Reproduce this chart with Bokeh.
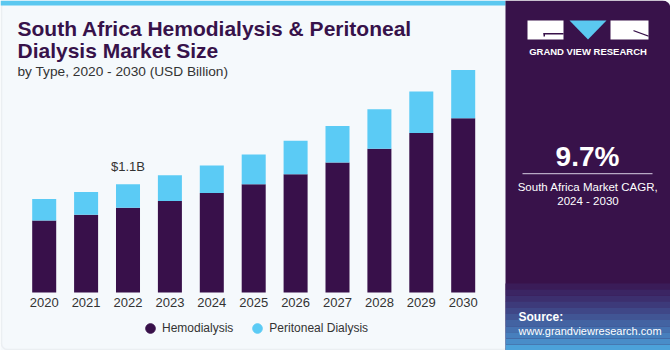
import numpy as np
from bokeh.plotting import figure
from bokeh.models import (Range1d, FixedTicker, Label, BoxAnnotation, PolyAnnotation,
                          Legend, LegendItem, ColumnDataSource)
from bokeh.core.properties import value
from bokeh.embed import file_html
from bokeh.resources import INLINE

# ---- data ----
years = [2020, 2021, 2022, 2023, 2024, 2025, 2026, 2027, 2028, 2029, 2030]
hemodialysis = [0.73, 0.79, 0.86, 0.93, 1.01, 1.10, 1.20, 1.32, 1.46, 1.62, 1.77]
peritoneal = [0.22, 0.23, 0.24, 0.26, 0.28, 0.30, 0.34, 0.37, 0.40, 0.42, 0.49]
series_names = ["Hemodialysis", "Peritoneal Dialysis"]
callout_year = 2022
callout_text = "$1.1B"
cagr_text = "9.7%"
cagr_caption = ["South Africa Market CAGR,", "2024 - 2030"]
title_lines = ["South Africa Hemodialysis & Peritoneal", "Dialysis Market Size"]
subtitle = "by Type, 2020 - 2030 (USD Billion)"

# ---- styles ----
BG = "#F5F9FC"
HEMO = "#38104A"
PERI = "#5BCBF5"
PANEL = "#38124A"
TITLE_C = "#37124A"
TXT = "#333333"
FONT = "Liberation Sans"
W, H = 670, 350
PX_PER_YEAR = 41.9      # horizontal scale
PX_PER_B = 98.5         # vertical scale
FIRST_X = 43.7          # pixel centre of the first bar
BASE_Y = 292            # pixel row of the baseline

x0 = years[0] - FIRST_X / PX_PER_YEAR
y0 = -(H - BASE_Y) / PX_PER_B

src = ColumnDataSource(dict(year=years, hemo=hemodialysis, peri=peritoneal))

p = figure(width=W, height=H, x_range=Range1d(x0, x0 + W / PX_PER_YEAR),
           y_range=Range1d(y0, y0 + H / PX_PER_B), output_backend="svg", toolbar_location=None,
           y_axis_location=None, title=None, min_border=0,
           background_fill_color=BG, border_fill_color=BG, outline_line_color=None)
p.xgrid.visible = False
p.ygrid.visible = False

p.vbar_stack(["hemo", "peri"], x="year", width=0.573, color=[HEMO, PERI],
             line_color=None, source=src)

# callout above 2022
idx = years.index(callout_year)
csrc = ColumnDataSource(dict(x=[callout_year], y=[hemodialysis[idx] + peritoneal[idx]], t=[callout_text]))
p.text(x="x", y="y", text="t", source=csrc, text_align="center", text_baseline="bottom",
       y_offset=-10, text_font=value(FONT), text_font_size="13px", text_color=TXT)

xa = p.xaxis[0]
xa.fixed_location = 0
xa.ticker = FixedTicker(ticks=years)
xa.axis_line_color = None
xa.major_tick_line_color = None
xa.minor_tick_line_color = None
xa.major_tick_out = 0
xa.major_tick_in = 0
xa.major_label_text_font = FONT
xa.major_label_text_font_size = "13px"
xa.major_label_text_color = TXT
xa.major_label_standoff = 5

# legend (circle markers)
nan = np.array([np.nan])
r1 = p.scatter(x=[years[0]], y=nan, marker="circle", color=HEMO)
r2 = p.scatter(x=[years[0]], y=nan, marker="circle", color=PERI)
legend = Legend(items=[LegendItem(label=series_names[0], renderers=[r1]),
                       LegendItem(label=series_names[1], renderers=[r2])],
                orientation="horizontal", location=(138, 10), padding=0, margin=0,
                spacing=12, glyph_width=24, glyph_height=24, label_standoff=0,
                label_text_font=FONT, label_text_font_size="12px", label_text_color=TXT,
                background_fill_alpha=0, border_line_color=None)
p.add_layout(legend)

# ---- decorations ----
def box(l, r, t, b, color, **kw):
    p.add_layout(BoxAnnotation(left=l, right=r, top=t, bottom=b, left_units="canvas",
                               right_units="canvas", top_units="canvas", bottom_units="canvas",
                               fill_color=color, fill_alpha=1, line_color=None, level="underlay", **kw))

def label(x, y, text, size, color, style="normal", align="left", baseline="middle", font=FONT):
    p.add_layout(Label(x=x, y=y, x_units="canvas", y_units="canvas", text=text,
                       text_font=font, text_font_size=size, text_font_style=style,
                       text_color=color, text_align=align, text_baseline=baseline))

# card border and top stripe
p.add_layout(BoxAnnotation(left=1, right=508, top=1, bottom=349, left_units="canvas",
                           right_units="canvas", top_units="canvas", bottom_units="canvas",
                           fill_alpha=0, line_color="#D3D7DB", line_width=1.5, border_radius=6,
                           level="underlay"))
box(0, 505, 0, 5, "#5BC8F0")

# right panel
box(505, 670, 0, 350, PANEL, border_radius=(0, 8, 8, 0))
grad = ["#3a1c58", "#3b2563", "#3c2f6e", "#3d3a7a", "#3f4787", "#415594", "#4363a2",
        "#4571b0", "#477fbd", "#498dc9", "#4ca2da"]
gy = 283
for c in grad:
    box(505, 670, gy, gy + 6.2, c)
    gy += 6.1

# logo
box(527, 563, 20, 39, "white")
box(543, 563, 32.5, 34, PANEL)
box(543, 544.5, 32.5, 36, PANEL)
p.add_layout(PolyAnnotation(xs=[569, 606, 587.5], ys=[20, 20, 39], xs_units="canvas",
                            ys_units="canvas", fill_color="#5BC8F0", fill_alpha=1,
                            line_color=None))
box(610, 648, 20, 39, "white")
p.add_layout(PolyAnnotation(xs=[633, 648, 648, 633], ys=[29.5, 35, 36.3, 30.8], xs_units="canvas",
                            ys_units="canvas", fill_color=PANEL, fill_alpha=1, line_color=None))
label(587.5, 51, "GRAND VIEW RESEARCH", "9.5px", "white", "bold", "center")

# CAGR
label(587, 156, cagr_text, "28px", "white", "bold", "center")
box(522, 652, 172.5, 173.7, "#B7A9C4")
label(587.5, 186, cagr_caption[0], "11.5px", "white", "normal", "center")
label(587.5, 200.5, cagr_caption[1], "11.5px", "white", "normal", "center")

# source
label(518, 316, "Source:", "12px", "white", "bold")
label(518, 330, "www.grandviewresearch.com", "11px", "white")

# titles
label(17, 28, title_lines[0], "21px", TITLE_C, "bold")
label(17, 49.5, title_lines[1], "21px", TITLE_C, "bold")
label(17, 71, subtitle, "13.7px", TXT)

open("out.html", "w").write(file_html(p, INLINE))
